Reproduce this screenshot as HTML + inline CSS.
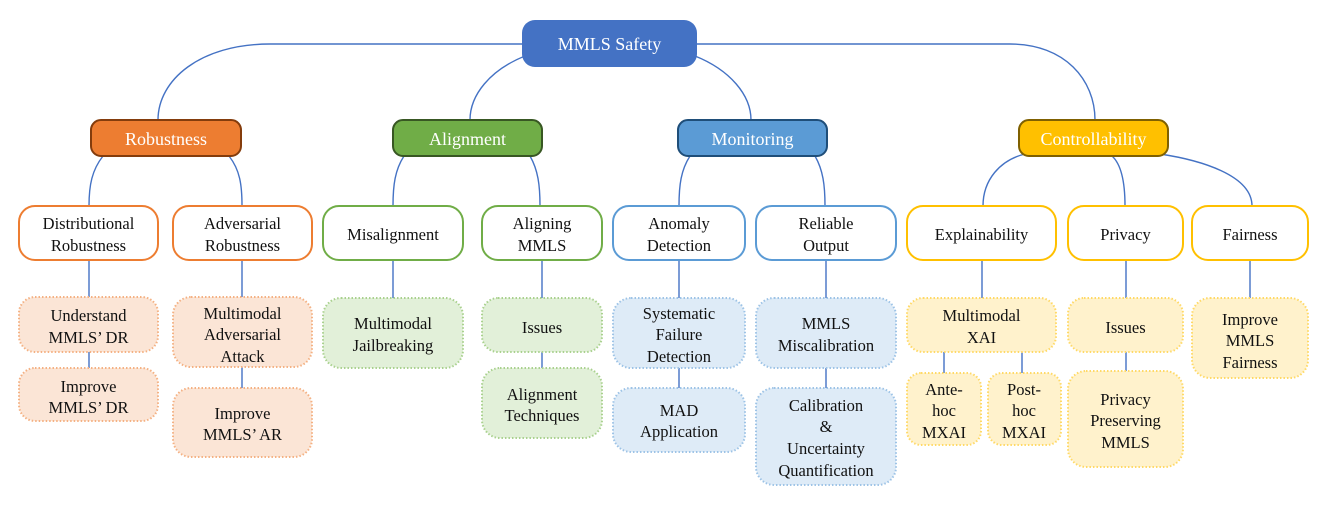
<!DOCTYPE html>
<html><head><meta charset="utf-8"><style>
html,body{margin:0;padding:0;background:#fff;}
svg{display:block;}
text{font-family:"Liberation Serif",serif;text-anchor:middle;}
</style></head><body>
<svg width="1329" height="506" viewBox="0 0 1329 506" xmlns="http://www.w3.org/2000/svg">
<g fill="none" stroke="#4472c4" stroke-width="1.4">
<path d="M522,44 H270 C200,44 158,80 158,120"/>
<path d="M525,56 C490,70 470,95 470,120"/>
<path d="M695,56 C730,70 751,95 751,120"/>
<path d="M697,44 H1010 C1065,44 1095,80 1095,120"/>
<path d="M103,156 C92,170 89,185 89,206"/>
<path d="M229,156 C240,170 242,185 242,206"/>
<path d="M404,156 C395,170 393,185 393,206"/>
<path d="M530,156 C538,170 540,185 540,206"/>
<path d="M690,156 C681,170 679,185 679,206"/>
<path d="M815,156 C823,170 825,185 825,206"/>
<path d="M1025,154 C1000,160 983,180 983,206"/>
<path d="M1112,156 C1122,165 1125,185 1125,206"/>
<path d="M1160,154 C1200,160 1252,175 1252,206"/>
<path d="M89,260 V297 M89,352 V368"/>
<path d="M242,260 V297 M242,367 V388"/>
<path d="M393,260 V298"/>
<path d="M542,260 V298 M542,352 V368"/>
<path d="M679,260 V298 M679,368 V388"/>
<path d="M826,260 V298 M826,368 V388"/>
<path d="M982,260 V298 M944,352 V373 M1022,352 V373"/>
<path d="M1126,260 V298 M1126,352 V371"/>
<path d="M1250,260 V298"/>
</g>
<!-- root -->
<rect x="522" y="20" width="175" height="47" rx="13" fill="#4472c4"/>
<text x="609.5" y="50" font-size="18" fill="#fff">MMLS Safety</text>
<!-- level1 -->
<rect x="91" y="120" width="150" height="36" rx="10" fill="#ed7d31" stroke="#843c0c" stroke-width="2"/>
<text x="166" y="145" font-size="18" fill="#fff">Robustness</text>
<rect x="393" y="120" width="149" height="36" rx="10" fill="#70ad47" stroke="#385723" stroke-width="2"/>
<text x="467.5" y="145" font-size="18" fill="#fff">Alignment</text>
<rect x="678" y="120" width="149" height="36" rx="10" fill="#5b9bd5" stroke="#1f4e79" stroke-width="2"/>
<text x="752.5" y="145" font-size="18" fill="#fff">Monitoring</text>
<rect x="1019" y="120" width="149" height="36" rx="10" fill="#ffc000" stroke="#7f6000" stroke-width="2"/>
<text x="1093.5" y="145" font-size="18" fill="#fff">Controllability</text>
<!-- level2 -->
<g fill="#fff" stroke-width="2">
<rect x="19" y="206" width="139" height="54" rx="16" stroke="#ed7d31"/>
<rect x="173" y="206" width="139" height="54" rx="16" stroke="#ed7d31"/>
<rect x="323" y="206" width="140" height="54" rx="16" stroke="#70ad47"/>
<rect x="482" y="206" width="120" height="54" rx="16" stroke="#70ad47"/>
<rect x="613" y="206" width="132" height="54" rx="16" stroke="#5b9bd5"/>
<rect x="756" y="206" width="140" height="54" rx="16" stroke="#5b9bd5"/>
<rect x="907" y="206" width="149" height="54" rx="16" stroke="#ffc000"/>
<rect x="1068" y="206" width="115" height="54" rx="16" stroke="#ffc000"/>
<rect x="1192" y="206" width="116" height="54" rx="16" stroke="#ffc000"/>
</g>
<g font-size="16.5" fill="#111">
<text x="88.5" y="229">Distributional</text><text x="88.5" y="251">Robustness</text>
<text x="242.5" y="229">Adversarial</text><text x="242.5" y="251">Robustness</text>
<text x="393" y="240">Misalignment</text>
<text x="542" y="229">Aligning</text><text x="542" y="251">MMLS</text>
<text x="679" y="229">Anomaly</text><text x="679" y="251">Detection</text>
<text x="826" y="229">Reliable</text><text x="826" y="251">Output</text>
<text x="981.5" y="240">Explainability</text>
<text x="1125.5" y="240">Privacy</text>
<text x="1250" y="240">Fairness</text>
</g>
<!-- level3 -->
<g stroke-width="2" stroke-dasharray="1.5 2">
<g fill="#fbe5d6" stroke="#f4b183">
<rect x="19" y="297" width="139" height="55" rx="16"/>
<rect x="19" y="368" width="139" height="53" rx="16"/>
<rect x="173" y="297" width="139" height="70" rx="18"/>
<rect x="173" y="388" width="139" height="69" rx="18"/>
</g>
<g fill="#e2f0d9" stroke="#a9d18e">
<rect x="323" y="298" width="140" height="70" rx="18"/>
<rect x="482" y="298" width="120" height="54" rx="16"/>
<rect x="482" y="368" width="120" height="70" rx="18"/>
</g>
<g fill="#deebf7" stroke="#9dc3e6">
<rect x="613" y="298" width="132" height="70" rx="18"/>
<rect x="613" y="388" width="132" height="64" rx="18"/>
<rect x="756" y="298" width="140" height="70" rx="18"/>
<rect x="756" y="388" width="140" height="97" rx="18"/>
</g>
<g fill="#fff2cc" stroke="#ffd966">
<rect x="907" y="298" width="149" height="54" rx="16"/>
<rect x="907" y="373" width="74" height="72" rx="14"/>
<rect x="988" y="373" width="73" height="72" rx="14"/>
<rect x="1068" y="298" width="115" height="54" rx="16"/>
<rect x="1068" y="371" width="115" height="96" rx="18"/>
<rect x="1192" y="298" width="116" height="80" rx="18"/>
</g>
</g>
<g font-size="16.5" fill="#111">
<text x="88.5" y="321">Understand</text><text x="88.5" y="343">MMLS’ DR</text>
<text x="88.5" y="392">Improve</text><text x="88.5" y="413">MMLS’ DR</text>
<text x="242.5" y="319">Multimodal</text><text x="242.5" y="340">Adversarial</text><text x="242.5" y="362">Attack</text>
<text x="242.5" y="419">Improve</text><text x="242.5" y="440">MMLS’ AR</text>
<text x="393" y="329">Multimodal</text><text x="393" y="351">Jailbreaking</text>
<text x="542" y="333">Issues</text>
<text x="542" y="400">Alignment</text><text x="542" y="421">Techniques</text>
<text x="679" y="319">Systematic</text><text x="679" y="340">Failure</text><text x="679" y="362">Detection</text>
<text x="679" y="416">MAD</text><text x="679" y="437">Application</text>
<text x="826" y="329">MMLS</text><text x="826" y="351">Miscalibration</text>
<text x="826" y="411">Calibration</text><text x="826" y="432">&amp;</text><text x="826" y="454">Uncertainty</text><text x="826" y="476">Quantification</text>
<text x="981.5" y="321">Multimodal</text><text x="981.5" y="343">XAI</text>
<text x="944" y="395">Ante-</text><text x="944" y="416">hoc</text><text x="944" y="438">MXAI</text>
<text x="1024" y="395">Post-</text><text x="1024" y="416">hoc</text><text x="1024" y="438">MXAI</text>
<text x="1125.5" y="333">Issues</text>
<text x="1125.5" y="405">Privacy</text><text x="1125.5" y="426">Preserving</text><text x="1125.5" y="448">MMLS</text>
<text x="1250" y="325">Improve</text><text x="1250" y="346">MMLS</text><text x="1250" y="368">Fairness</text>
</g>
</svg>
</body></html>
